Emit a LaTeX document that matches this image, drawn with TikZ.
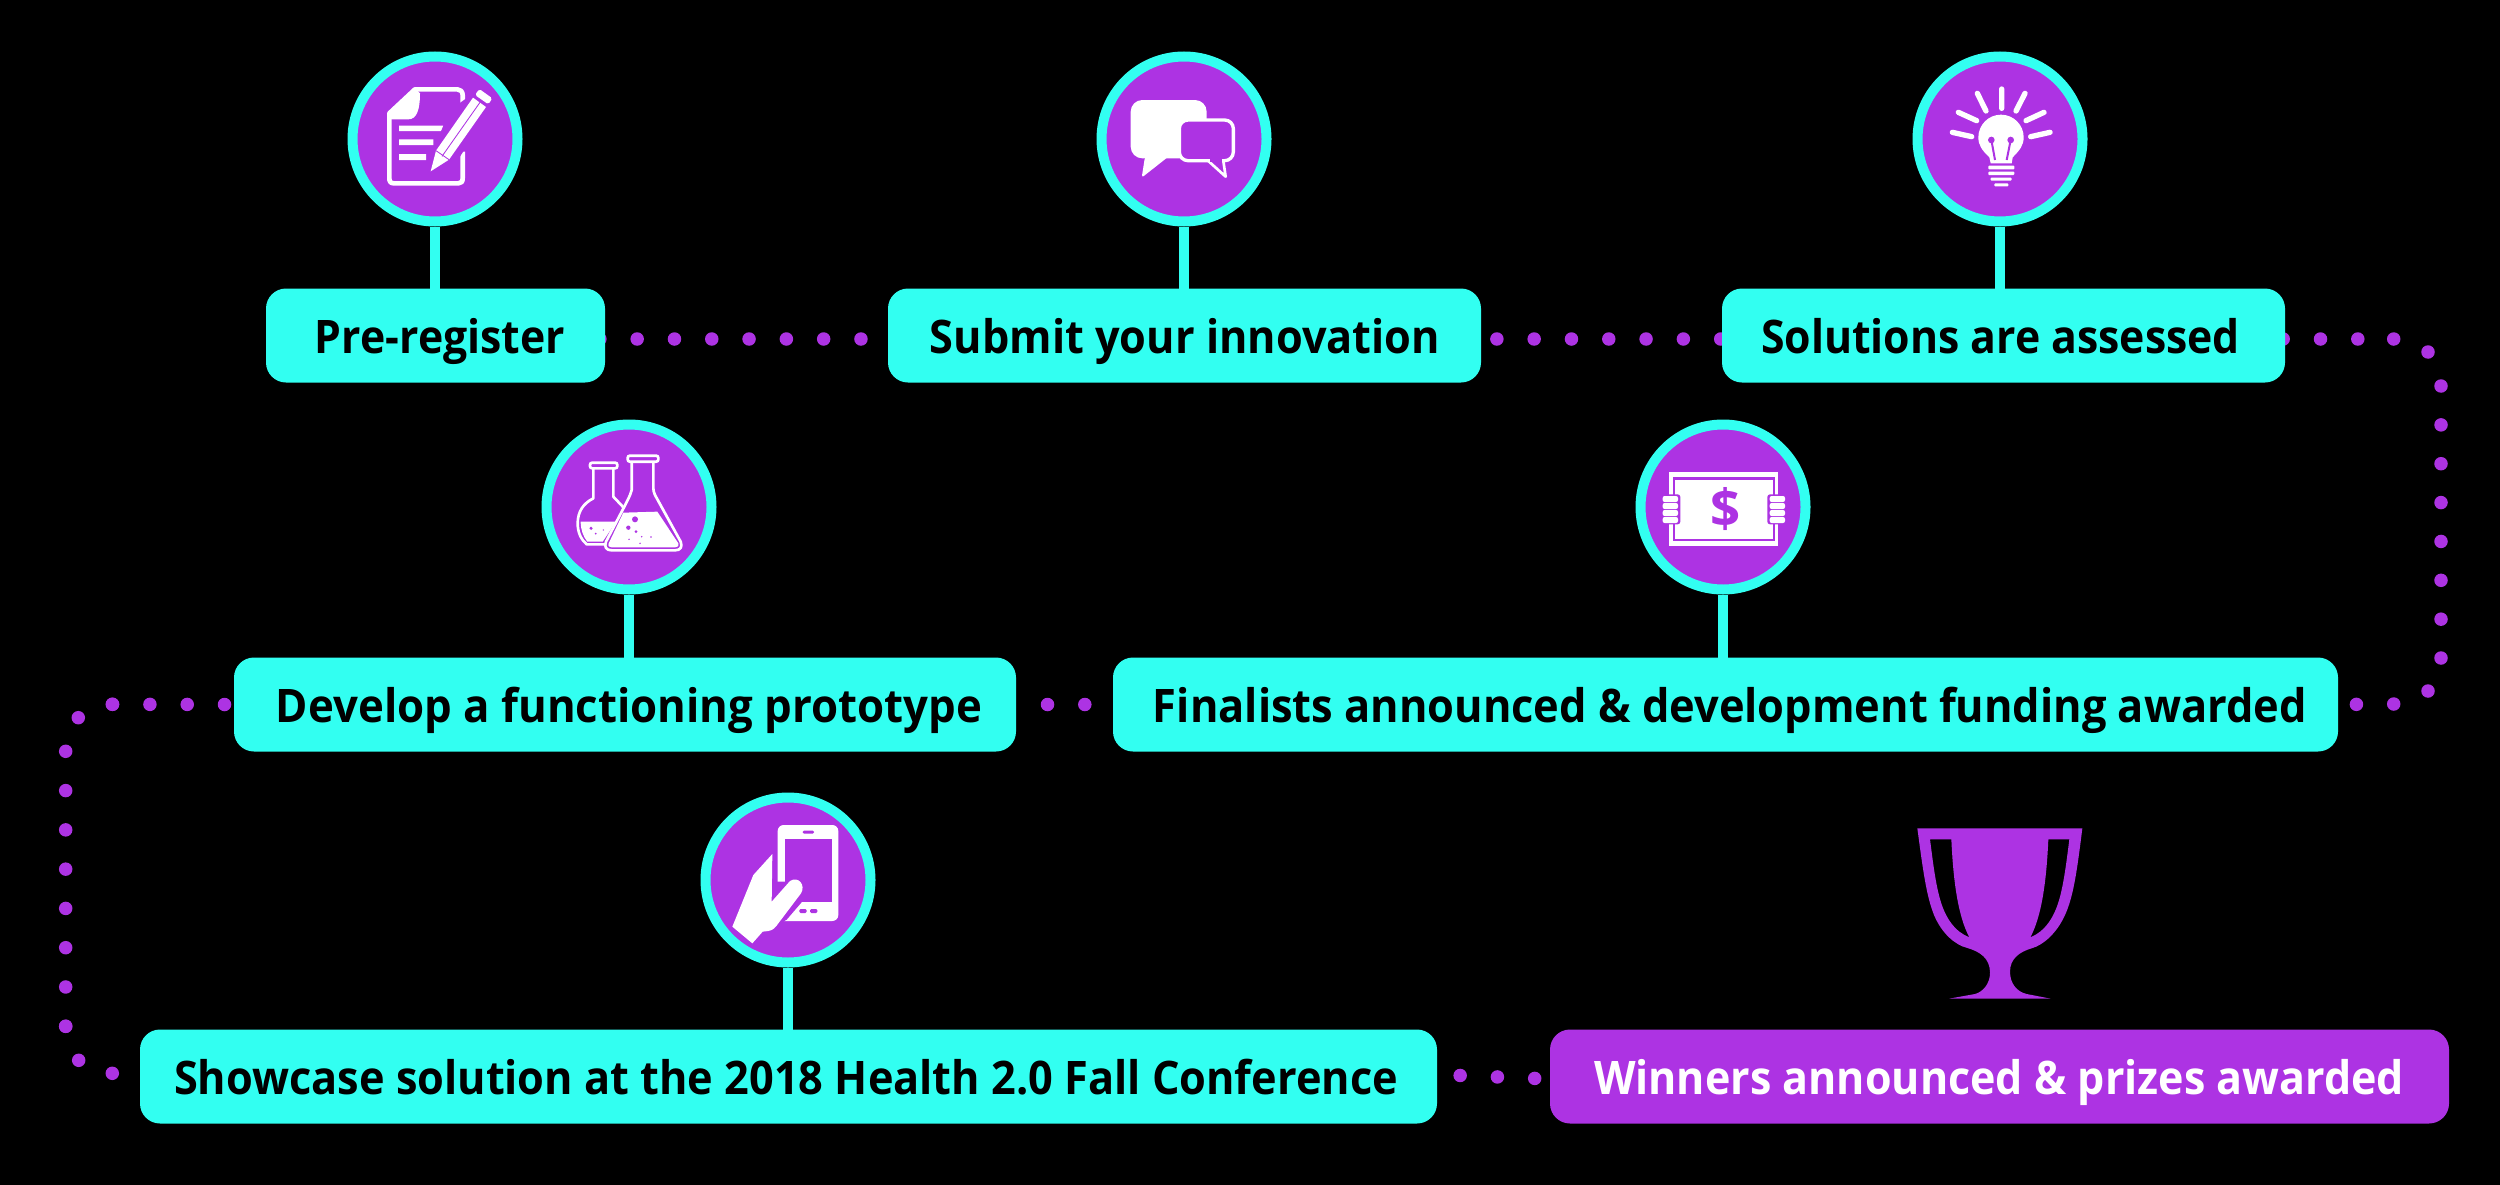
\documentclass[tikz,border=0pt]{standalone}
\usepackage{fontspec}
\usepackage{graphicx}
\setmainfont{Open Sans}
\usetikzlibrary{backgrounds}
\definecolor{cy}{HTML}{32FFF1}
\definecolor{pu}{HTML}{AD33E3}
\newlength\pxu \setlength\pxu{0.04cm}
\newcommand\lab[3]{\kern#2\pxu\resizebox{#1\pxu}{\height}{#3}\kern-#2\pxu}
\tikzset{
 box/.style={fill=cy,text=black,rounded corners=20\pxu,inner sep=0pt,minimum height=94\pxu,font=\fontsize{52.6pt}{60pt}\bfseries\selectfont,text height=35\pxu,text depth=0pt},
 ring/.style={circle,draw=cy,fill=pu,line width=10\pxu,minimum size=165\pxu,inner sep=0pt},
 stem/.style={draw=cy,line width=9.5\pxu},
 dots/.style={draw=pu,line width=13.5\pxu,line cap=round,dash pattern=on 0pt off 37.3\pxu},
 zoomed/.style={x=0.04cm/3,y=-0.04cm/3},
 wf/.style={fill=white,draw=none},
 pf/.style={fill=pu,draw=none}
}
\begin{document}
\begin{tikzpicture}[x=0.04cm,y=-0.04cm]
\useasboundingbox (0,0) rectangle (2500,1184);
% boxes
\node[box,minimum width=339\pxu] (b1) at (435.5,335.5) {\lab{250}{4.5}{Pre-register}};
\node[box,minimum width=593\pxu] (b2) at (1184.5,335.5) {\lab{510}{0.5}{Submit your innovation}};
\node[box,minimum width=563\pxu] (b3) at (2003.5,335.5) {\lab{479}{-3}{Solutions are assessed}};
\node[box,minimum width=782\pxu] (b4) at (625,704.5) {\lab{706}{4}{Develop a functioning prototype}};
\node[box,minimum width=1225\pxu] (b5) at (1725.5,704.5) {\lab{1154}{4.5}{Finalists announced \& development funding awarded}};
\node[box,minimum width=1297\pxu] (b6) at (788.5,1076.5) {\lab{1224}{-2.5}{Showcase solution at the 2018 Health 2.0 Fall Conference}};
\node[box,minimum width=899\pxu,fill=pu,text=white] (b7) at (1999.5,1076.5) {\lab{810}{-0.5}{Winners announced \& prizes awarded}};
% circles
\node[ring] (c1) at (435,139) {};
\node[ring] (c2) at (1184,139) {};
\node[ring] (c3) at (2000,139) {};
\node[ring] (c4) at (629,507) {};
\node[ring] (c5) at (1723,507) {};
\node[ring] (c6) at (788,880) {};
% corner points of the dotted connectors
\coordinate (tr1) at (2393.7,339);
\coordinate (tr2) at (2428,352);
\coordinate (tr3) at (2441,386);
\coordinate (tr4) at (2441,658);
\coordinate (tr5) at (2428,691);
\coordinate (tr6) at (2393.7,704);
\coordinate (tl1) at (112.3,704.3);
\coordinate (tl2) at (78.3,717.7);
\coordinate (tl3) at (65.7,751.3);
\coordinate (tl4) at (65.7,1026.3);
\coordinate (tl5) at (78.7,1060.3);
\coordinate (tl6) at (112.3,1073.3);
\begin{pgfonlayer}{background}
\fill[black] (-5,-5) rectangle (2505,1189);
% stems
\draw[stem] (c1) -- (c1|-b1);
\draw[stem] (c2) -- (c2|-b2);
\draw[stem] (c3) -- (c3|-b3);
\draw[stem] (c4) -- (c4|-b4);
\draw[stem] (c5) -- (c5|-b5);
\draw[stem] (c6) -- (c6|-b6);
% dotted connectors
\draw[dots] ([shift={(-5.3,3.5)}]b1.east) -- ([yshift=-3.5\pxu]b2.west);
\draw[dots] ([shift={(-21.6,3.5)}]b2.east) -- ([yshift=-3.5\pxu]b3.west);
\draw[dots] ([shift={(-2,3.5)}]b3.east) -- (tr1);
\draw[dots] (tr1) -- (tr2);
\draw[dots] (tr2) -- (tr3);
\draw[dots,dash pattern=on 0pt off 38.86\pxu] (tr3) -- (tr4);
\draw[dots] (tr4) -- (tr5);
\draw[dots] (tr5) -- (tr6);
\draw[dots] (tr6) -- (b5.east);
\draw[dots] ([xshift=9.3\pxu]b5.west) -- (b4.east);
\draw[dots] ([xshift=-9.3\pxu]b4.west) -- (tl1);
\draw[dots] (tl1) -- (tl2);
\draw[dots] (tl2) -- (tl3);
\draw[dots,dash pattern=on 0pt off 39.28\pxu] (tl3) -- (tl4);
\draw[dots] (tl4) -- (tl5);
\draw[dots] (tl5) -- (tl6);
\draw[dots] (tl6) -- ([yshift=-3.2\pxu]b6.west);
\draw[dots] ([shift={(-14.3,-2.5)}]b6.east) -- ([yshift=-2.5\pxu]b7.west);
\end{pgfonlayer}
% icon 1
\begin{scope}[shift={(240,30)},zoomed]
\draw[white,line width=14\pxu/3,line join=round] (668,232) -- (668,195) .. controls (668,184) and (660,178) .. (652,178) -- (525,178) -- (448,250) -- (448,445) .. controls (448,455) and (452,460) .. (462,460) -- (655,460) .. controls (664,460) and (668,455) .. (668,445) -- (668,365);
\fill[wf] (525,175) -- (540,190) .. controls (540,240) and (530,268) .. (505,268) -- (450,268) -- (450,250) -- cycle;
\fill[wf] (477,287) rectangle (610,303) (477,328) rectangle (580,345) (477,372) rectangle (558,390);
\fill[pf] (630,240) -- (700,190) -- (745,250) -- (640,410) -- (600,400) -- (575,370) -- cycle;
\fill[wf,rounded corners=2pt] (718,177) -- (757,205) -- (745,223) -- (705,195) -- cycle;
\fill[wf] (699,203) -- (738,231) -- (627,389) -- (572,424) -- (588,362) -- cycle;
\draw[pu,line width=2.5\pxu/3] (720,217) -- (606,379);
\draw[pu,line width=2.5\pxu/3] (588,362) -- (627,389);
\end{scope}
% icon 2
\begin{scope}[shift={(1060,50)},zoomed]
\fill[wf,rounded corners=35\pxu/3] (212,150) rectangle (440,325);
\fill[wf,rounded corners=3pt] (255,320) -- (245,383) -- (325,320) -- cycle;
\draw[white,fill=pu,line width=10\pxu/3,rounded corners=26\pxu/3] (358,210) rectangle (520,332);
\draw[white,fill=pu,line width=8\pxu/3,line join=round] (445,333) -- (497,380) -- (490,333);
\fill[pf] (450,326) rectangle (486,336);
\end{scope}
% icon 3
\begin{scope}[shift={(1900,50)},zoomed]
\draw[white,line width=16\pxu/3,line cap=round]
 (305,117) -- (305,175) (232,130) -- (258,183) (375,130) -- (348,183)
 (175,187) -- (230,212) (432,187) -- (378,212) (157,247) -- (215,260) (450,247) -- (392,260);
\fill[wf] (268,322) .. controls (245,300) and (235,285) .. (235,262) arc[start angle=180,end angle=360,radius=68] .. controls (371,285) and (360,300) .. (338,322) -- (335,340) -- (272,340) -- cycle;
\fill[pf] (274,270) circle (10) (332,270) circle (10);
\draw[pu,line width=6\pxu/3] (274,270) -- (285,330) (332,270) -- (320,330);
\fill[wf,rounded corners=1pt] (265,347) rectangle (343,358) (265,365) rectangle (343,375) (272,383) rectangle (335,392) (283,400) rectangle (325,409);
\end{scope}
% icon 4
\begin{scope}[shift={(530,415)},zoomed]
\draw[white,line width=8\pxu/3,line join=round] (190,160) -- (190,250) .. controls (160,265) and (143,290) .. (143,325) .. controls (143,355) and (155,375) .. (170,388) -- (228,388);
\draw[white,line width=8\pxu/3,line join=round] (250,160) -- (250,245) -- (283,280);
\draw[white,fill=pu,line width=8\pxu/3,rounded corners=2.5pt] (180,143) rectangle (262,160);
\fill[wf] (152,320) -- (258,320) -- (218,380) -- (172,380) .. controls (160,365) and (152,345) .. (152,320) -- cycle;
\fill[pf] (183,340) circle (5) (197,356) circle (3) (220,345) circle (2);
\draw[white,fill=pu,line width=8\pxu/3,line join=round] (305,138) -- (305,225) .. controls (300,245) and (290,260) .. (283,275) -- (228,380) .. controls (222,395) and (228,406) .. (245,406) -- (435,406) .. controls (452,406) and (458,395) .. (452,380) -- (375,240) .. controls (372,232) and (370,228) .. (370,220) -- (370,138) -- cycle;
\draw[white,fill=pu,line width=8\pxu/3,rounded corners=2.5pt] (293,122) rectangle (385,140);
\fill[wf] (280,293) -- (382,290) -- (445,385) .. controls (447,394) and (442,397) .. (435,397) -- (245,397) .. controls (238,397) and (233,394) .. (236,385) -- cycle;
\fill[pf] (315,313) circle (9) (295,338) circle (6.5) (318,350) circle (4.5) (297,373) circle (2.5) (335,365) circle (2.5) (363,366) circle (2.5) (330,385) circle (2.5);
\end{scope}
% icon 5
\begin{scope}[shift={(1620,415)},zoomed]
\fill[wf] (148,172) rectangle (475,392);
\draw[pu,line width=7\pxu/3] (162,190) rectangle (461,375);
\fill[pf,rounded corners=3pt] (120,238) rectangle (181,328) (442,238) rectangle (503,328);
\foreach \yy in {243,264,285,306}{
 \fill[wf,rounded corners=6\pxu/3] (128,\yy) rectangle (174,\yy+18);
 \fill[wf,rounded corners=6\pxu/3] (449,\yy) rectangle (495,\yy+18);
}
\node[text=pu,inner sep=0pt,font=\fontsize{60pt}{60pt}\bfseries\selectfont] (dollar) at (318,283) {\$};
\end{scope}
% icon 6
\begin{scope}[shift={(690,785)},zoomed]
\fill[wf,rounded corners=18\pxu/3] (263,120) rectangle (445,408);
\fill[pf] (284,163) rectangle (427,350);
\fill[pf,rounded corners=1.5pt] (338,137) rectangle (372,146) (328,372) rectangle (350,384) (360,372) rectangle (382,384);
\fill[pf] (255,290) -- (290,290) -- (345,340) -- (290,404) -- (255,425) -- cycle;
\fill[wf] (127,425) -- (187,475) -- (218,440) -- (235,438) .. controls (250,436) and (258,425) .. (265,415) -- (333,325) .. controls (348,300) and (325,272) .. (300,288) -- (245,350) -- (247,207) -- (190,270) -- cycle;
\end{scope}
% trophy
\begin{scope}[shift={(1880,810)},zoomed]
\fill[pu,even odd rule] (112,55) -- (607,55) .. controls (590,190) and (580,260) .. (555,315) .. controls (530,370) and (490,405) .. (455,415) .. controls (420,425) and (390,445) .. (390,485) .. controls (390,520) and (410,545) .. (440,552) -- (512,566) -- (207,566) -- (285,552) .. controls (310,545) and (330,520) .. (330,488) .. controls (330,445) and (300,425) .. (262,414) .. controls (225,405) and (185,370) .. (162,315) .. controls (140,260) and (130,190) .. (112,55) -- cycle
 (150,88) -- (214,88) .. controls (220,220) and (235,320) .. (268,382) .. controls (225,365) and (195,325) .. (178,260) .. controls (165,210) and (158,150) .. (150,88) -- cycle
 (505,88) -- (568,88) .. controls (560,150) and (553,210) .. (540,260) .. controls (523,325) and (493,365) .. (451,382) .. controls (484,320) and (499,220) .. (505,88) -- cycle;
\end{scope}
\end{tikzpicture}
\end{document}
